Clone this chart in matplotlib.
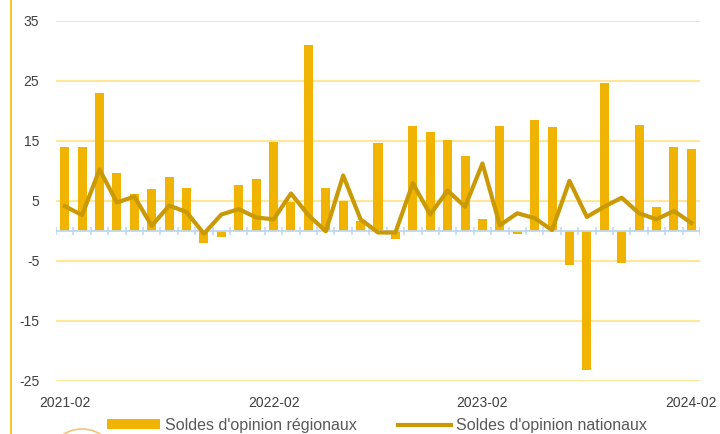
import numpy as np
import matplotlib
matplotlib.use("Agg")
import matplotlib.pyplot as plt
from matplotlib.patches import Patch, Circle
from matplotlib.lines import Line2D
from matplotlib.transforms import IdentityTransform

plt.rcParams['font.family'] = ['Liberation Sans', 'DejaVu Sans']

# monthly, 2021-02 .. 2024-02
months = ['2021-02', '2021-03', '2021-04', '2021-05', '2021-06', '2021-07', '2021-08',
          '2021-09', '2021-10', '2021-11', '2021-12', '2022-01', '2022-02', '2022-03',
          '2022-04', '2022-05', '2022-06', '2022-07', '2022-08', '2022-09', '2022-10',
          '2022-11', '2022-12', '2023-01', '2023-02', '2023-03', '2023-04', '2023-05',
          '2023-06', '2023-07', '2023-08', '2023-09', '2023-10', '2023-11', '2023-12',
          '2024-01', '2024-02']
regionaux = [14, 14, 23, 9.6, 6.1, 7.0, 9.0, 7.2, -2.0, -1.0, 7.6, 8.7, 14.8, 4.8,
             30.9, 7.2, 5.0, 1.7, 14.7, -1.3, 17.4, 16.4, 15.1, 12.4, 1.9, 17.5, -0.6,
             18.5, 17.3, -5.7, -23.2, 24.6, -5.3, 17.6, 3.9, 13.9, 13.7]
nationaux = [4.1, 2.6, 10.2, 4.7, 5.7, 0.8, 4.2, 3.1, -0.5, 2.7, 3.6, 2.2, 1.9, 6.2,
             2.6, -0.1, 9.2, 1.9, -0.3, -0.3, 7.9, 2.7, 6.7, 4.0, 11.2, 0.9, 2.9, 2.1,
             0.1, 8.3, 2.3, 4.0, 5.5, 2.9, 1.9, 3.3, 1.3]
label_months = ['2021-02', '2022-02', '2023-02', '2024-02']
yticks = [-25, -15, -5, 5, 15, 25, 35]

bar_color = '#F0B400'
line_color = '#C99A06'
grid_color = '#FFE699'
text_color = '#595959'

fig = plt.figure(figsize=(7.2, 4.34), dpi=100)
ax = fig.add_axes([56 / 720, 1 - 380.7 / 434, 644 / 720, 360 / 434])

x = np.arange(len(months))
ax.bar(x, regionaux, width=0.52, color=bar_color, zorder=2)
ax.plot(x, nationaux, color=line_color, lw=3, solid_joinstyle='round', zorder=4)

ax.set_xlim(-0.5, len(months) - 0.5)
ax.set_ylim(-25, 35)
ax.set_yticks(yticks)
ax.set_yticklabels([str(v) for v in yticks])
ax.yaxis.grid(True, color=grid_color, lw=1.5, zorder=0)
ax.set_axisbelow(True)

ax.set_xticks([months.index(m) for m in label_months])
ax.set_xticklabels(label_months)
ax.tick_params(axis='both', length=0, labelsize=10, colors='#404040')
ax.tick_params(axis='x', pad=11)
ax.tick_params(axis='y', pad=12)
for s in ax.spines.values():
    s.set_visible(False)

# zero axis with category boundary ticks
ax.axhline(0, color='#BDD7EE', lw=1.3, zorder=3)
bounds = np.arange(len(months) + 1) - 0.5
ax.vlines(bounds, -0.7, 0.7, color='#BDD7EE', lw=1.1, zorder=3)

handles = [Patch(facecolor=bar_color, edgecolor='none'),
           Line2D([0], [0], color=line_color, lw=3)]
fig.legend(handles, ["Soldes d'opinion régionaux", "Soldes d'opinion nationaux"],
           loc='center', bbox_to_anchor=(377 / 720, 1 - 425.5 / 434), ncol=2,
           frameon=False, fontsize=11.5, handlelength=3.3, handleheight=0.6,
           handletextpad=0.3, columnspacing=2.6, labelcolor=text_color,
           borderpad=0, borderaxespad=0)

# left border line and partial logo
fig.add_artist(Line2D([10.5 / 720, 10.5 / 720], [0, 1], color='#F5B800', lw=1.2,
                      transform=fig.transFigure))
fig.add_artist(Circle((82, -30), 35, fill=False, edgecolor='#F4C27A', lw=1.2,
                      transform=IdentityTransform()))

fig.savefig('out.png', dpi=100)
